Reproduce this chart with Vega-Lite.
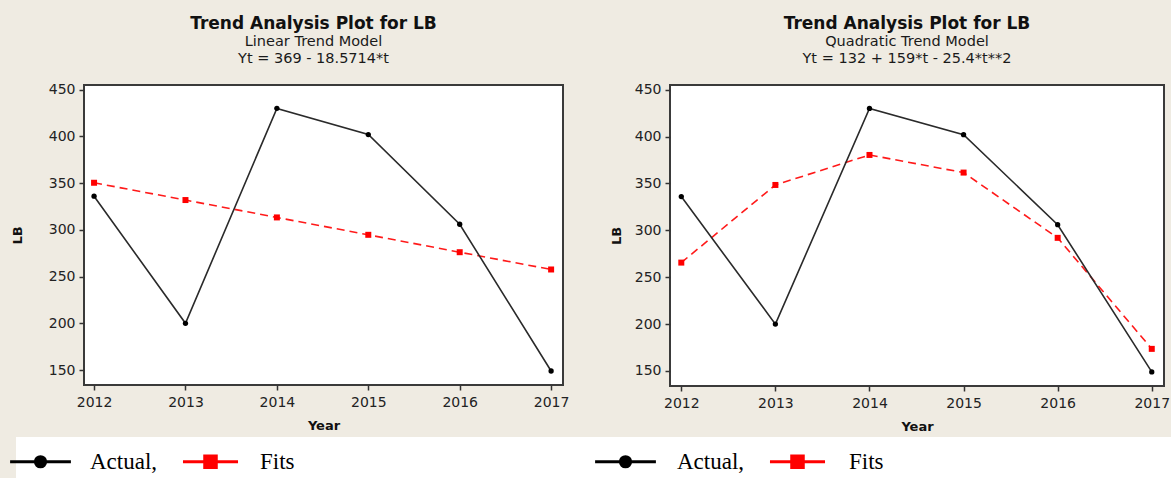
{
  "$schema": "https://vega.github.io/schema/vega-lite/v6.json",
  "background": "#efebe2",
  "padding": {"left": 10, "top": 13, "right": 0, "bottom": 0},
  "datasets": {
    "linear": [
      {"Year": 2012, "LB": 336, "series": "Actual"},
      {"Year": 2013, "LB": 200, "series": "Actual"},
      {"Year": 2014, "LB": 430, "series": "Actual"},
      {"Year": 2015, "LB": 402, "series": "Actual"},
      {"Year": 2016, "LB": 306, "series": "Actual"},
      {"Year": 2017, "LB": 149, "series": "Actual"},
      {"Year": 2012, "LB": 350.4, "series": "Fits"},
      {"Year": 2013, "LB": 331.9, "series": "Fits"},
      {"Year": 2014, "LB": 313.3, "series": "Fits"},
      {"Year": 2015, "LB": 294.7, "series": "Fits"},
      {"Year": 2016, "LB": 276.1, "series": "Fits"},
      {"Year": 2017, "LB": 257.6, "series": "Fits"}
    ],
    "quadratic": [
      {"Year": 2012, "LB": 336, "series": "Actual"},
      {"Year": 2013, "LB": 200, "series": "Actual"},
      {"Year": 2014, "LB": 430, "series": "Actual"},
      {"Year": 2015, "LB": 402, "series": "Actual"},
      {"Year": 2016, "LB": 306, "series": "Actual"},
      {"Year": 2017, "LB": 149, "series": "Actual"},
      {"Year": 2012, "LB": 265.6, "series": "Fits"},
      {"Year": 2013, "LB": 348.4, "series": "Fits"},
      {"Year": 2014, "LB": 380.4, "series": "Fits"},
      {"Year": 2015, "LB": 361.6, "series": "Fits"},
      {"Year": 2016, "LB": 292.0, "series": "Fits"},
      {"Year": 2017, "LB": 173.6, "series": "Fits"}
    ]
  },
  "config": {
    "title": {
      "font": "DejaVu Sans",
      "fontSize": 17,
      "fontWeight": "bold",
      "color": "#111111",
      "subtitleFont": "DejaVu Sans",
      "subtitleFontSize": 14.5,
      "subtitleColor": "#1a1a1a",
      "subtitleLineHeight": 17,
      "subtitlePadding": 2.5,
      "anchor": "middle",
      "frame": "group",
      "dx": -10,
      "offset": 16
    },
    "axis": {
      "labelFont": "DejaVu Sans",
      "labelFontSize": 14,
      "labelColor": "#222222",
      "titleFont": "DejaVu Sans",
      "titleFontSize": 13,
      "titleFontWeight": "bold",
      "titleColor": "#111111",
      "domain": false,
      "grid": false,
      "tickColor": "#333333",
      "tickWidth": 1.5,
      "tickSize": 5
    }
  },
  "spacing": 3,
  "vconcat": [
    {
      "spacing": 39,
      "hconcat": [
        {
          "width": 479,
          "height": 300,
          "data": {"name": "linear"},
          "title": {"text": "Trend Analysis Plot for LB", "subtitle": ["Linear Trend Model", "Yt = 369 - 18.5714*t"]},
          "view": {"fill": "white", "stroke": "#3a3a3a", "strokeWidth": 2},
          "encoding": {
            "x": {"field": "Year", "type": "quantitative", "scale": {"domain": [2011.89, 2017.13], "nice": false, "zero": false},
              "axis": {"values": [2012, 2013, 2014, 2015, 2016, 2017], "format": "d", "title": "Year", "labelPadding": 5, "titlePadding": 10}},
            "y": {"field": "LB", "type": "quantitative", "scale": {"domain": [134, 455], "nice": false, "zero": false},
              "axis": {"values": [150, 200, 250, 300, 350, 400, 450], "title": "LB", "labelPadding": 4, "titlePadding": 24}}
          },
          "layer": [
            {"transform": [{"filter": "datum.series === 'Fits'"}], "mark": {"type": "line", "color": "#ff1a1a", "strokeWidth": 1.6, "strokeDash": [8, 5]}},
            {"transform": [{"filter": "datum.series === 'Fits'"}], "mark": {"type": "square", "color": "#ff0000", "size": 36, "opacity": 1}},
            {"transform": [{"filter": "datum.series === 'Actual'"}], "mark": {"type": "line", "color": "#2a2a2a", "strokeWidth": 1.6}},
            {"transform": [{"filter": "datum.series === 'Actual'"}], "mark": {"type": "circle", "color": "#000000", "size": 28, "opacity": 1}}
          ]
        },
        {
          "width": 494,
          "height": 301,
          "data": {"name": "quadratic"},
          "title": {"text": "Trend Analysis Plot for LB", "subtitle": ["Quadratic Trend Model", "Yt = 132 + 159*t - 25.4*t**2"]},
          "view": {"fill": "white", "stroke": "#3a3a3a", "strokeWidth": 2},
          "encoding": {
            "x": {"field": "Year", "type": "quantitative", "scale": {"domain": [2011.88, 2017.13], "nice": false, "zero": false},
              "axis": {"values": [2012, 2013, 2014, 2015, 2016, 2017], "format": "d", "title": "Year", "labelPadding": 5, "titlePadding": 10}},
            "y": {"field": "LB", "type": "quantitative", "scale": {"domain": [134, 455], "nice": false, "zero": false},
              "axis": {"values": [150, 200, 250, 300, 350, 400, 450], "title": "LB", "labelPadding": 4, "titlePadding": 11}}
          },
          "layer": [
            {"transform": [{"filter": "datum.series === 'Fits'"}], "mark": {"type": "line", "color": "#ff1a1a", "strokeWidth": 1.6, "strokeDash": [8, 5]}},
            {"transform": [{"filter": "datum.series === 'Fits'"}], "mark": {"type": "square", "color": "#ff0000", "size": 36, "opacity": 1}},
            {"transform": [{"filter": "datum.series === 'Actual'"}], "mark": {"type": "line", "color": "#2a2a2a", "strokeWidth": 1.6}},
            {"transform": [{"filter": "datum.series === 'Actual'"}], "mark": {"type": "circle", "color": "#000000", "size": 28, "opacity": 1}}
          ]
        }
      ]
    },
    {
      "spacing": 0,
      "resolve": {"scale": {"color": "independent"}, "legend": {"color": "independent"}},
      "hconcat": [
        {
          "width": 512,
          "height": 42,
          "data": {"name": "linear"},
          "view": {"fill": "white", "stroke": null},
          "mark": {"type": "point", "opacity": 0, "filled": true},
          "encoding": {
            "color": {"field": "series", "type": "nominal", "scale": {"domain": ["Actual", "Fits"], "range": ["#000000", "#ff0000"]},
              "legend": {
                "title": null, "orient": "none", "legendX": -68, "legendY": 0, "direction": "horizontal", "padding": 7, "fillColor": "white",
                "symbolSize": 1024, "symbolStrokeWidth": 3, "symbolOpacity": 1,
                "labelFont": "Liberation Serif", "labelFontSize": 23, "labelColor": "#000000", "labelOffset": 32, "columnPadding": 18, "labelLimit": 0,
                "labelExpr": "datum.label === 'Actual' ? 'Actual,' : datum.label",
                "encode": {"symbols": {"update": {
                  "shape": {"signal": "datum.value === 'Actual' ? 'M-1.9,0L1.9,0M-0.32,0A0.32,0.32,0,1,0,0.32,0A0.32,0.32,0,1,0,-0.32,0Z' : 'M-1.72,0L1.72,0M-0.36,-0.36L0.36,-0.36L0.36,0.36L-0.36,0.36Z'"},
                  "fill": {"signal": "datum.value === 'Actual' ? '#000000' : '#ff0000'"},
                  "stroke": {"signal": "datum.value === 'Actual' ? '#000000' : '#ff0000'"},
                  "strokeWidth": {"value": 3},
                  "opacity": {"value": 1}
                }}}
              }}
          }
        },
        {
          "width": 576,
          "height": 42,
          "data": {"name": "quadratic"},
          "view": {"fill": "white", "stroke": null},
          "mark": {"type": "point", "opacity": 0, "filled": true},
          "encoding": {
            "color": {"field": "series", "type": "nominal", "scale": {"domain": ["Actual", "Fits"], "range": ["#000000", "#ff0000"]},
              "legend": {
                "title": null, "orient": "none", "legendX": 5, "legendY": 0, "direction": "horizontal", "padding": 7, "fillColor": "white",
                "symbolSize": 1024, "symbolStrokeWidth": 3, "symbolOpacity": 1,
                "labelFont": "Liberation Serif", "labelFontSize": 23, "labelColor": "#000000", "labelOffset": 34, "columnPadding": 18, "labelLimit": 0,
                "labelExpr": "datum.label === 'Actual' ? 'Actual,' : datum.label",
                "encode": {"symbols": {"update": {
                  "shape": {"signal": "datum.value === 'Actual' ? 'M-1.9,0L1.9,0M-0.32,0A0.32,0.32,0,1,0,0.32,0A0.32,0.32,0,1,0,-0.32,0Z' : 'M-1.72,0L1.72,0M-0.36,-0.36L0.36,-0.36L0.36,0.36L-0.36,0.36Z'"},
                  "fill": {"signal": "datum.value === 'Actual' ? '#000000' : '#ff0000'"},
                  "stroke": {"signal": "datum.value === 'Actual' ? '#000000' : '#ff0000'"},
                  "strokeWidth": {"value": 3},
                  "opacity": {"value": 1}
                }}}
              }}
          }
        }
      ]
    }
  ]
}
